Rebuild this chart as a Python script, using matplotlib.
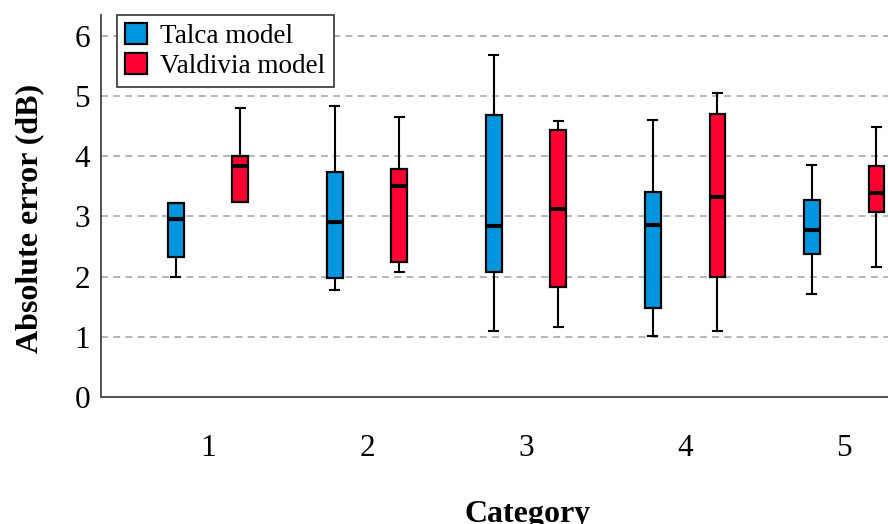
import matplotlib
matplotlib.use('Agg')
import matplotlib.pyplot as plt
from matplotlib.patches import Patch
import numpy as np

plt.rcParams['font.family'] = ['Liberation Serif', 'DejaVu Serif']

categories = [1, 2, 3, 4, 5]

# Talca model box stats
talca_whislo = [1.99, 1.78, 1.10, 1.01, 1.71]
talca_q1 = [2.32, 1.98, 2.07, 1.47, 2.38]
talca_med = [2.95, 2.90, 2.84, 2.85, 2.77]
talca_q3 = [3.22, 3.73, 4.68, 3.41, 3.27]
talca_whishi = [3.22, 4.83, 5.68, 4.60, 3.85]

# Valdivia model box stats
vald_whislo = [3.24, 2.08, 1.17, 1.10, 2.16]
vald_q1 = [3.24, 2.24, 1.82, 2.00, 3.07]
vald_med = [3.84, 3.51, 3.12, 3.32, 3.39]
vald_q3 = [4.01, 3.79, 4.44, 4.70, 3.84]
vald_whishi = [4.80, 4.65, 4.59, 5.05, 4.49]

blue = '#0096df'
red = '#ff0033'


def make_stats(lo, q1, med, q3, hi):
    return [dict(whislo=a, q1=b, med=c, q3=d, whishi=e, fliers=[])
            for a, b, c, d, e in zip(lo, q1, med, q3, hi)]


fig = plt.figure(figsize=(8.88, 5.24), dpi=100)
# the plot area runs past the right edge of the picture, like the original
ax = fig.add_axes([101 / 888, 0.2424, 854 / 888, 0.729])

pos = np.array(categories, dtype=float)
for stats, offs, col in [(make_stats(talca_whislo, talca_q1, talca_med, talca_q3, talca_whishi), -0.204, blue),
                         (make_stats(vald_whislo, vald_q1, vald_med, vald_q3, vald_whishi), 0.204, red)]:
    ax.bxp(stats, positions=pos + offs, widths=0.1, patch_artist=True,
           showfliers=False,
           boxprops=dict(facecolor=col, edgecolor='black', linewidth=1.6),
           medianprops=dict(color='black', linewidth=3),
           whiskerprops=dict(color='black', linewidth=1.5),
           capprops=dict(color='black', linewidth=1.5),
           capwidths=0.055, zorder=3)

ax.set_xlim(0.327, 5.698)
ax.set_ylim(0, 6.345)
ax.set_xticks(categories)
ax.set_xticklabels([str(c) for c in categories])
ax.set_yticks(range(0, 7))

for y in range(1, 7):
    ax.axhline(y, color='#a0a0a0', linewidth=1.1, linestyle=(0, (4.5, 3.5)), zorder=1)

ax.spines['top'].set_visible(False)
ax.spines['right'].set_visible(False)
ax.spines['left'].set_color('#444444')
ax.spines['bottom'].set_color('#555555')
ax.spines['left'].set_linewidth(1.3)
ax.spines['bottom'].set_linewidth(1.5)

ax.tick_params(axis='both', length=0, labelsize=22.5)
ax.tick_params(axis='x', pad=27)
ax.tick_params(axis='y', pad=8)

ax.set_ylabel('Absolute error (dB)', fontsize=23, fontweight='bold')
ax.yaxis.set_label_coords(-0.0667, 0.4686)
ax.set_xlabel('Category', fontsize=23, fontweight='bold', labelpad=26)

handles = [Patch(facecolor=blue, edgecolor='black', linewidth=1.6, label='Talca model'),
           Patch(facecolor=red, edgecolor='black', linewidth=1.6, label='Valdivia model')]
leg = fig.legend(handles=handles, loc='upper left', bbox_to_anchor=(117 / 888, 1 - 15 / 524),
                 fontsize=19.5, frameon=True, fancybox=False, framealpha=1,
                 edgecolor='#333333', handlelength=0.8, handleheight=0.8,
                 handletextpad=0.5, borderpad=0.3, labelspacing=0.15, borderaxespad=0)
leg.get_frame().set_linewidth(1.2)
leg.set_zorder(5)

fig.savefig('out.png', dpi=100)
